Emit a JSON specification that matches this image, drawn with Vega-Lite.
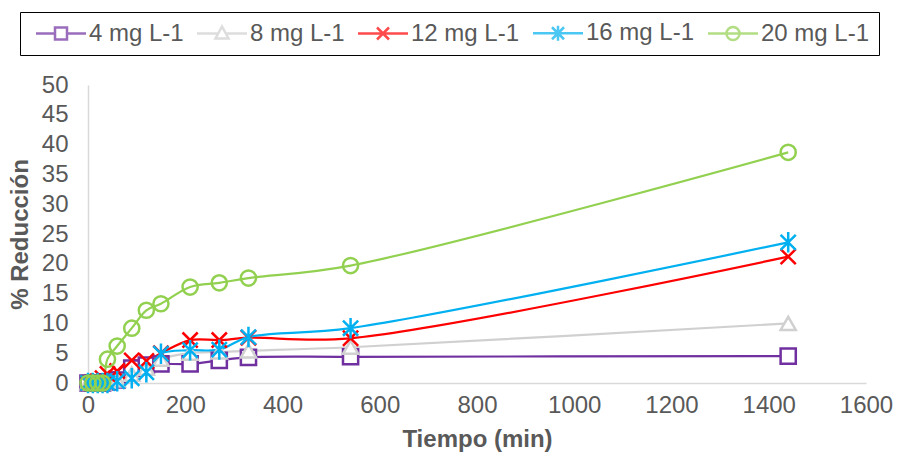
{
  "$schema": "https://vega.github.io/schema/vega-lite/v6.json",
  "width": 778,
  "height": 298,
  "autosize": {"type": "none"},
  "padding": {"left": 88, "top": 85, "right": 32, "bottom": 77},
  "background": "white",
  "config": {
    "view": {"stroke": null},
    "font": "Liberation Sans",
    "axis": {"labelFont": "Liberation Sans", "titleFont": "Liberation Sans", "labelColor": "#595959", "titleColor": "#595959", "domainColor": "#D9D9D9", "domainWidth": 1.5, "ticks": false, "grid": false, "labelFontSize": 24, "titleFontSize": 24, "titleFontWeight": "bold", "labelFlush": false}
  },
  "data": {"values": [
    {"t": 0, "serie": "4 mg L-1", "v": 0}, {"t": 10, "serie": "4 mg L-1", "v": 0}, {"t": 20, "serie": "4 mg L-1", "v": 0}, {"t": 30, "serie": "4 mg L-1", "v": 0},
    {"t": 40, "serie": "4 mg L-1", "v": 0.2}, {"t": 60, "serie": "4 mg L-1", "v": 0.5}, {"t": 90, "serie": "4 mg L-1", "v": 2.5}, {"t": 120, "serie": "4 mg L-1", "v": 3.0},
    {"t": 150, "serie": "4 mg L-1", "v": 3.2}, {"t": 210, "serie": "4 mg L-1", "v": 3.2}, {"t": 270, "serie": "4 mg L-1", "v": 3.8}, {"t": 330, "serie": "4 mg L-1", "v": 4.3},
    {"t": 540, "serie": "4 mg L-1", "v": 4.4}, {"t": 1440, "serie": "4 mg L-1", "v": 4.5},
    {"t": 0, "serie": "8 mg L-1", "v": 0}, {"t": 10, "serie": "8 mg L-1", "v": 0}, {"t": 20, "serie": "8 mg L-1", "v": 0}, {"t": 30, "serie": "8 mg L-1", "v": 0},
    {"t": 40, "serie": "8 mg L-1", "v": 0.3}, {"t": 60, "serie": "8 mg L-1", "v": 0.5}, {"t": 90, "serie": "8 mg L-1", "v": 1.5}, {"t": 120, "serie": "8 mg L-1", "v": 2.5},
    {"t": 150, "serie": "8 mg L-1", "v": 4.0}, {"t": 210, "serie": "8 mg L-1", "v": 5.0}, {"t": 270, "serie": "8 mg L-1", "v": 5.2}, {"t": 330, "serie": "8 mg L-1", "v": 5.4},
    {"t": 540, "serie": "8 mg L-1", "v": 6.0}, {"t": 1440, "serie": "8 mg L-1", "v": 10.0},
    {"t": 0, "serie": "12 mg L-1", "v": 0}, {"t": 10, "serie": "12 mg L-1", "v": 0}, {"t": 20, "serie": "12 mg L-1", "v": 0.3}, {"t": 30, "serie": "12 mg L-1", "v": 0.8},
    {"t": 40, "serie": "12 mg L-1", "v": 1.5}, {"t": 60, "serie": "12 mg L-1", "v": 2.0}, {"t": 90, "serie": "12 mg L-1", "v": 3.8}, {"t": 120, "serie": "12 mg L-1", "v": 3.7},
    {"t": 150, "serie": "12 mg L-1", "v": 5.0}, {"t": 210, "serie": "12 mg L-1", "v": 7.2}, {"t": 270, "serie": "12 mg L-1", "v": 7.2}, {"t": 330, "serie": "12 mg L-1", "v": 7.6},
    {"t": 540, "serie": "12 mg L-1", "v": 7.5}, {"t": 1440, "serie": "12 mg L-1", "v": 21.2},
    {"t": 0, "serie": "16 mg L-1", "v": 0}, {"t": 10, "serie": "16 mg L-1", "v": 0}, {"t": 20, "serie": "16 mg L-1", "v": 0}, {"t": 30, "serie": "16 mg L-1", "v": 0},
    {"t": 40, "serie": "16 mg L-1", "v": 0}, {"t": 60, "serie": "16 mg L-1", "v": 0.3}, {"t": 90, "serie": "16 mg L-1", "v": 0.8}, {"t": 120, "serie": "16 mg L-1", "v": 1.8},
    {"t": 150, "serie": "16 mg L-1", "v": 4.9}, {"t": 210, "serie": "16 mg L-1", "v": 5.5}, {"t": 270, "serie": "16 mg L-1", "v": 5.6}, {"t": 330, "serie": "16 mg L-1", "v": 7.7},
    {"t": 540, "serie": "16 mg L-1", "v": 9.2}, {"t": 1440, "serie": "16 mg L-1", "v": 23.6},
    {"t": 0, "serie": "20 mg L-1", "v": 0}, {"t": 10, "serie": "20 mg L-1", "v": 0}, {"t": 20, "serie": "20 mg L-1", "v": 0}, {"t": 30, "serie": "20 mg L-1", "v": 0},
    {"t": 40, "serie": "20 mg L-1", "v": 4.0}, {"t": 60, "serie": "20 mg L-1", "v": 6.2}, {"t": 90, "serie": "20 mg L-1", "v": 9.2}, {"t": 120, "serie": "20 mg L-1", "v": 12.2},
    {"t": 150, "serie": "20 mg L-1", "v": 13.3}, {"t": 210, "serie": "20 mg L-1", "v": 16.1}, {"t": 270, "serie": "20 mg L-1", "v": 16.8}, {"t": 330, "serie": "20 mg L-1", "v": 17.6},
    {"t": 540, "serie": "20 mg L-1", "v": 19.7}, {"t": 1440, "serie": "20 mg L-1", "v": 38.7}
  ]},
  "encoding": {
    "x": {"field": "t", "type": "quantitative", "title": "Tiempo (min)", "scale": {"domain": [0, 1600], "nice": false, "padding": 0}, "axis": {"values": [0, 200, 400, 600, 800, 1000, 1200, 1400, 1600], "format": "d", "labelPadding": 10, "titlePadding": 10}},
    "y": {"field": "v", "type": "quantitative", "title": "% Reducción", "scale": {"domain": [0, 50], "nice": false, "padding": 0}, "axis": {"values": [0, 5, 10, 15, 20, 25, 30, 35, 40, 45, 50], "labelPadding": 20, "titlePadding": 9}}
  },
  "resolve": {"scale": {"color": "independent", "shape": "independent"}},
  "layer": [
    {
      "mark": {"type": "line", "interpolate": "catmull-rom", "strokeWidth": 2.2},
      "encoding": {
        "color": {"field": "serie", "type": "nominal", "legend": null, "scale": {"domain": ["4 mg L-1", "8 mg L-1", "12 mg L-1", "16 mg L-1", "20 mg L-1"], "range": ["#7030A0", "#D0D0D0", "#FF0000", "#00B0F0", "#92D050"]}}
      }
    },
    {
      "mark": {"type": "point", "filled": false, "size": 230, "strokeWidth": 2.5, "opacity": 1},
      "encoding": {
        "color": {"field": "serie", "type": "nominal", "legend": null, "scale": {"domain": ["4 mg L-1", "8 mg L-1", "12 mg L-1", "16 mg L-1", "20 mg L-1"], "range": ["#7030A0", "#D0D0D0", "#FF0000", "#00B0F0", "#92D050"]}},
        "shape": {"field": "serie", "type": "nominal", "legend": null, "scale": {"domain": ["4 mg L-1", "8 mg L-1", "12 mg L-1", "16 mg L-1", "20 mg L-1"], "range": ["square", "triangle-up", "M-1,-1L1,1M-1,1L1,-1", "M-1,-1L1,1M-1,1L1,-1M0,-1.35V1.35", "circle"]}},
        "fill": {"field": "serie", "type": "nominal", "legend": null, "scale": {"domain": ["4 mg L-1", "8 mg L-1", "12 mg L-1", "16 mg L-1", "20 mg L-1"], "range": ["white", "white", "white", "white", "transparent"]}}
      }
    },
    {
      "transform": [{"filter": "false"}],
      "mark": {"type": "point", "filled": false, "strokeWidth": 2.5},
      "encoding": {
        "color": {"field": "serie", "type": "nominal", "scale": {"domain": ["4 mg L-1", "8 mg L-1", "12 mg L-1", "16 mg L-1", "20 mg L-1"], "range": ["#7030A0", "#D0D0D0", "#FF0000", "#00B0F0", "#92D050"]},
          "legend": {
            "title": null, "orient": "none", "direction": "horizontal", "columns": 5, "legendX": -68, "legendY": -73,
            "strokeColor": "#000000", "padding": 9, "columnPadding": 6,
            "labelFont": "Liberation Sans", "labelFontSize": 24, "labelColor": "#595959", "labelOffset": 36,
            "symbolSize": 100, "symbolStrokeWidth": 2.5
          }
        },
        "shape": {"field": "serie", "type": "nominal", "scale": {"domain": ["4 mg L-1", "8 mg L-1", "12 mg L-1", "16 mg L-1", "20 mg L-1"], "range": ["M-1,0H2.8M5.2,0H9M2.8,-1.2H5.2V1.2H2.8Z", "M-1,0H3.24M4.76,0H9M4,-1.4L5.3,1L2.7,1Z", "M-1,0H9M2.8,-1.2L5.2,1.2M2.8,1.2L5.2,-1.2", "M-1,0H9M2.8,-1.2L5.2,1.2M2.8,1.2L5.2,-1.2M4,-1.5V1.5", "M-1,0H9M5.3,0A1.3,1.3 0 1,1 2.7,0A1.3,1.3 0 1,1 5.3,0"]},
          "legend": {
            "title": null, "orient": "none", "direction": "horizontal", "columns": 5, "legendX": -68, "legendY": -73,
            "strokeColor": "#000000", "padding": 9, "columnPadding": 6,
            "labelFont": "Liberation Sans", "labelFontSize": 24, "labelColor": "#595959", "labelOffset": 36,
            "symbolSize": 100, "symbolStrokeWidth": 2.5
          }
        }
      }
    }
  ]
}
